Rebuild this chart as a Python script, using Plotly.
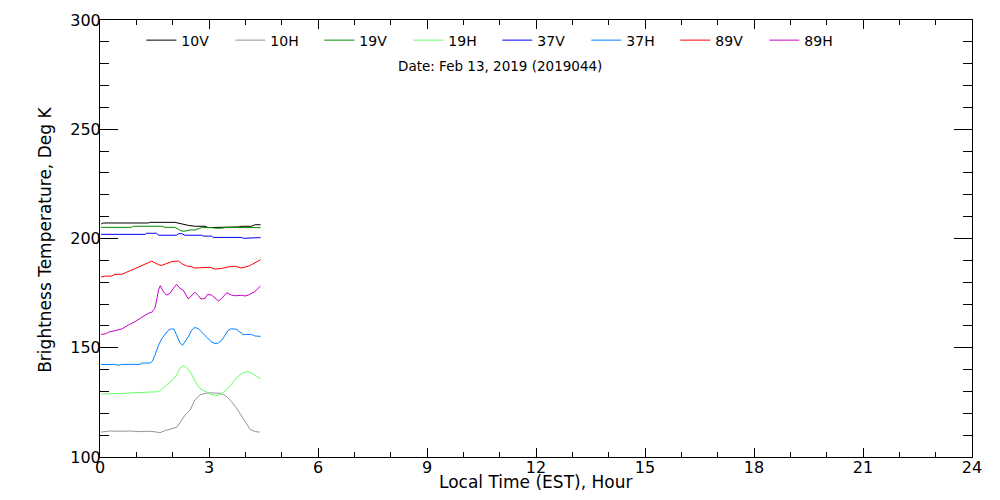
import plotly.graph_objects as go

# ---- data (hours, Kelvin) ----
t_10v = [0.03, 0.08, 1.33, 1.38, 2.06, 2.25, 2.43, 2.61, 2.89, 2.98, 3.35, 3.53, 3.81, 3.90, 4.17, 4.27, 4.42]
tb_10v = [206.6, 207.1, 207.1, 207.4, 207.4, 206.6, 206.0, 205.6, 205.6, 205.0, 205.0, 205.3, 205.3, 205.6, 205.6, 206.3, 206.3]

t_10h = [0.02, 0.28, 0.55, 0.83, 1.10, 1.38, 1.56, 1.65, 1.74, 1.93, 2.11, 2.20, 2.34, 2.48, 2.61, 2.75, 2.89,
         3.03, 3.21, 3.35, 3.49, 3.62, 3.76, 3.90, 4.04, 4.13, 4.27, 4.40]
tb_10h = [111.4, 111.9, 111.8, 111.9, 111.6, 111.8, 111.4, 111.1, 111.8, 112.7, 113.6, 115.7, 119.2, 121.5, 126.1,
          128.4, 129.1, 129.4, 129.4, 129.1, 127.6, 125.3, 122.3, 118.5, 114.6, 112.7, 111.6, 111.4]

t_19v = [0.03, 0.87, 0.92, 1.70, 1.79, 2.06, 2.16, 2.25, 2.34, 2.48, 2.61, 2.71, 2.80, 3.07, 3.17, 3.35, 3.44, 4.42]
tb_19v = [205.1, 205.1, 205.6, 205.6, 205.1, 205.1, 204.2, 203.4, 203.4, 203.9, 203.9, 204.5, 205.0, 205.0, 204.7,
          204.7, 205.0, 205.0]

t_19h = [0.03, 0.41, 0.60, 0.96, 1.51, 1.61, 1.70, 1.79, 1.88, 2.02, 2.11, 2.20, 2.29, 2.38, 2.48, 2.57, 2.66,
         2.75, 2.89, 3.03, 3.17, 3.30, 3.39, 3.49, 3.62, 3.72, 3.81, 3.90, 4.04, 4.13, 4.26, 4.42]
tb_19h = [128.8, 128.8, 129.1, 129.4, 129.6, 129.9, 131.0, 132.2, 133.7, 135.6, 137.5, 140.6, 141.8, 141.0, 139.1,
          136.0, 133.4, 131.4, 129.9, 128.8, 128.2, 128.5, 129.4, 131.0, 133.3, 135.6, 137.1, 138.3, 139.1, 138.7,
          137.5, 135.7]

t_37v = [0.03, 1.24, 1.28, 1.56, 1.61, 2.11, 2.16, 2.25, 2.34, 2.80, 2.84, 3.07, 3.12, 3.90, 3.94, 4.27, 4.36, 4.42]
tb_37v = [201.9, 201.9, 202.4, 202.4, 201.5, 201.5, 202.2, 202.2, 201.5, 201.5, 201.1, 201.1, 200.5, 200.5, 200.1,
          200.1, 200.4, 200.4]

t_37h = [0.03, 0.41, 0.50, 0.60, 1.10, 1.15, 1.38, 1.44, 1.51, 1.61, 1.70, 1.79, 1.88, 1.97, 2.04, 2.11, 2.20,
         2.27, 2.34, 2.43, 2.52, 2.61, 2.71, 2.80, 2.89, 2.98, 3.07, 3.17, 3.26, 3.35, 3.44, 3.53, 3.62, 3.76,
         3.85, 3.94, 4.03, 4.17, 4.26, 4.42]
tb_37h = [142.3, 142.4, 142.0, 142.4, 142.4, 143.0, 143.0, 143.8, 146.5, 151.1, 154.2, 156.4, 158.0, 158.7, 158.4,
          155.7, 152.3, 151.1, 152.6, 154.9, 158.0, 159.3, 158.7, 157.2, 156.0, 154.2, 152.6, 151.9, 152.2, 153.4,
          156.0, 158.0, 158.7, 158.4, 157.2, 156.0, 156.1, 156.1, 155.4, 155.2]

t_89v = [0.03, 0.14, 0.32, 0.41, 0.60, 0.69, 0.83, 0.96, 1.06, 1.15, 1.24, 1.33, 1.42, 1.51, 1.61, 1.70, 1.79,
         1.88, 1.97, 2.16, 2.25, 2.39, 2.52, 2.61, 2.98, 3.03, 3.17, 3.35, 3.53, 3.72, 3.90, 3.99, 4.08, 4.17,
         4.26, 4.42]
tb_89v = [182.4, 182.8, 182.8, 183.6, 183.6, 184.4, 185.3, 186.2, 187.0, 187.7, 188.5, 189.1, 189.6, 188.9, 188.0,
          187.7, 188.2, 188.8, 189.4, 189.7, 188.5, 187.4, 187.1, 186.5, 186.5, 186.8, 186.0, 186.3, 187.0, 187.3,
          186.5, 186.8, 187.3, 188.0, 188.8, 190.3]

t_89h = [0.03, 0.14, 0.23, 0.41, 0.60, 0.78, 0.96, 1.15, 1.33, 1.42, 1.51, 1.56, 1.61, 1.66, 1.74, 1.83, 1.93,
         2.02, 2.11, 2.20, 2.29, 2.43, 2.52, 2.61, 2.71, 2.78, 2.89, 2.96, 3.07, 3.17, 3.26, 3.35, 3.49, 3.62,
         3.72, 3.90, 3.99, 4.08, 4.17, 4.26, 4.42]
tb_89h = [156.1, 156.3, 157.1, 157.8, 158.6, 160.4, 161.9, 163.9, 165.8, 166.2, 168.0, 171.9, 176.4, 178.4, 175.7,
          174.1, 174.9, 177.2, 179.0, 177.2, 176.4, 172.3, 174.1, 175.4, 173.8, 172.3, 172.6, 174.4, 174.1, 172.6,
          171.4, 172.6, 175.2, 174.1, 173.8, 174.0, 173.7, 174.1, 174.9, 175.7, 178.3]

channels = ["10V", "10H", "19V", "19H", "37V", "37H", "89V", "89H"]
colors = ["#000000", "#969696", "#008c00", "#64ff64", "#0000ff", "#0080ff", "#ff0000", "#c800c8"]
series = [(t_10v, tb_10v), (t_10h, tb_10h), (t_19v, tb_19v), (t_19h, tb_19h),
          (t_37v, tb_37v), (t_37h, tb_37h), (t_89v, tb_89v), (t_89h, tb_89h)]

x_ticks = [0, 3, 6, 9, 12, 15, 18, 21, 24]
y_ticks = [100, 150, 200, 250, 300]
date_label = "Date: Feb 13, 2019 (2019044)"
x_title = "Local Time (EST), Hour"
y_title = "Brightness Temperature, Deg K"

FONT = "DejaVu Sans"

fig = go.Figure()
for name, col, (tt, tb) in zip(channels, colors, series):
    fig.add_trace(go.Scatter(x=tt, y=tb, mode="lines", name=name,
                             line=dict(color=col, width=1)))

fig.update_layout(
    width=992, height=492,
    paper_bgcolor="white", plot_bgcolor="white",
    margin=dict(l=92, r=28, t=12, b=43, autoexpand=False),
    font=dict(family=FONT, color="black", size=15),
    showlegend=True,
    legend=dict(orientation="h", x=0.0474, y=0.953, xanchor="left", yanchor="middle",
                entrywidth=44, entrywidthmode="pixels",
                font=dict(family=FONT, size=14, color="black"),
                bgcolor="rgba(0,0,0,0)", itemwidth=30),
    annotations=[
        dict(text=date_label, xref="paper", yref="paper", x=0.4587, y=0.8947,
             showarrow=False, xanchor="center", yanchor="middle",
             font=dict(family=FONT, size=13.5, color="black")),
        dict(text=x_title, xref="paper", yref="paper", x=0.499, y=-0.0572,
             showarrow=False, xanchor="center", yanchor="middle",
             font=dict(family=FONT, size=17, color="black")),
        dict(text=y_title, xref="paper", yref="paper", x=-0.0631, y=0.497, textangle=-90,
             showarrow=False, xanchor="center", yanchor="middle",
             font=dict(family=FONT, size=17, color="black")),
    ],
)

fig.update_xaxes(range=[0, 24], tickvals=x_ticks, ticktext=[str(v) for v in x_ticks],
                 ticks="inside", ticklen=9, tickwidth=1, tickcolor="black",
                 minor=dict(dtick=1, tick0=0, ticks="inside", ticklen=5, tickcolor="black", showgrid=False),
                 showline=True, linecolor="black", linewidth=1, mirror="allticks",
                 showgrid=False, zeroline=False, automargin=False, ticklabelstandoff=-4,
                 tickfont=dict(family=FONT, size=16))
fig.update_yaxes(range=[100, 300], tickvals=y_ticks, ticktext=[str(v) for v in y_ticks],
                 ticks="inside", ticklen=18, tickwidth=1, tickcolor="black",
                 minor=dict(dtick=10, tick0=100, ticks="inside", ticklen=9, tickcolor="black", showgrid=False),
                 showline=True, linecolor="black", linewidth=1, mirror="allticks",
                 showgrid=False, zeroline=False, automargin=False, ticklabelstandoff=-5,
                 tickfont=dict(family=FONT, size=16))

fig.write_html("out.html")
